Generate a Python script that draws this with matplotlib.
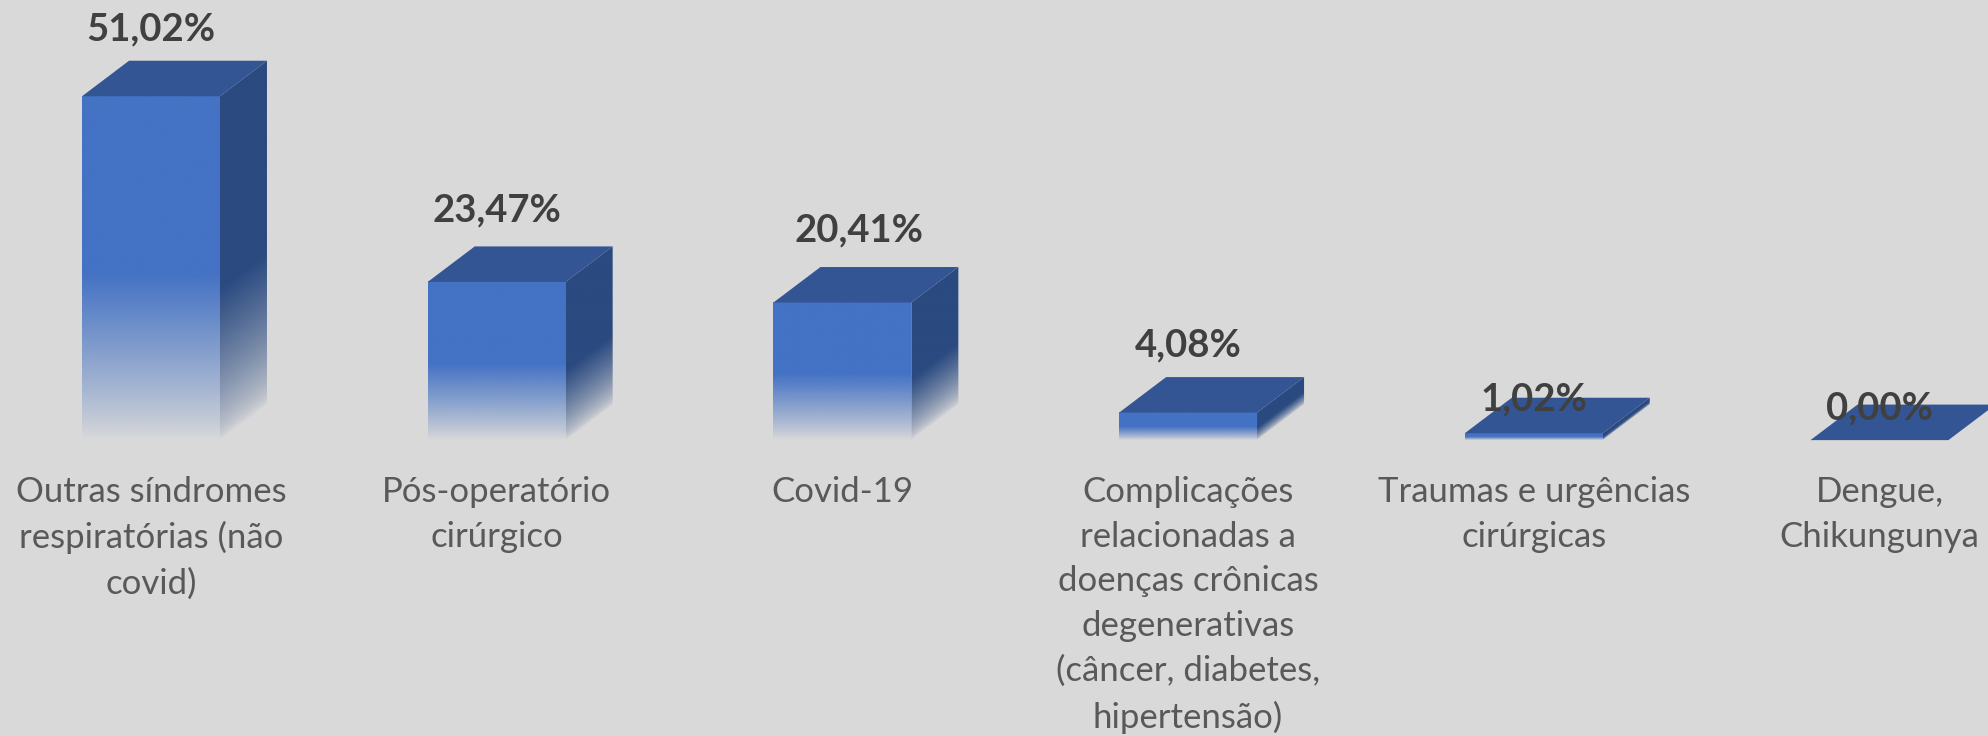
import numpy as np
import matplotlib
matplotlib.use("Agg")
import matplotlib.pyplot as plt
from matplotlib.colors import to_rgb
from matplotlib.patches import Polygon

categories = [
    "Outras síndromes\nrespiratórias (não\ncovid)",
    "Pós-operatório\ncirúrgico",
    "Covid-19",
    "Complicações\nrelacionadas a\ndoenças crônicas\ndegenerativas\n(câncer, diabetes,\nhipertensão)",
    "Traumas e urgências\ncirúrgicas",
    "Dengue,\nChikungunya",
]
values = [51.02, 23.47, 20.41, 4.08, 1.02, 0.00]
value_labels = ["51,02%", "23,47%", "20,41%", "4,08%", "1,02%", "0,00%"]
# label offsets: height above the bar top (percent units), sideways shift (bars)
label_gaps = [4.7, 5.4, 5.4, 4.7, -0.2, -0.6]
label_shift = [0, 0, 0.048, 0, 0, 0]

BG = "#D9D9D9"
FRONT = "#4472C4"
SIDE = "#2A4A80"
TOP = "#335593"
WIDTH = 0.399
DX = 0.136
DY = 5.27


def fade(color, alpha):
    rgba = np.ones(alpha.shape + (4,))
    rgba[..., :3] = to_rgb(color)
    rgba[..., 3] = alpha
    return rgba


def ramp(t, solid, power):
    # t: 0 at the top of the bar, 1 at the bottom
    return np.clip((1 - t) / (1 - solid), 0, 1) ** power


plt.rcParams["font.family"] = ["Lato", "DejaVu Sans"]
fig = plt.figure(figsize=(19.88, 7.36), dpi=100, facecolor=BG)
ax = fig.add_axes([0, 0, 1, 1])
ax.set_facecolor(BG)

for i, (v, cat, lab, gap, shift) in enumerate(zip(values, categories, value_labels, label_gaps, label_shift)):
    x0, x1 = i - WIDTH / 2, i + WIDTH / 2

    if v > 0:
        # front face
        t = np.linspace(0, 1, 300)[:, None]
        ax.imshow(fade(FRONT, ramp(t, 0.52, 0.9)), extent=(x0, x1, 0, v), origin="upper",
                  aspect="auto", interpolation="bilinear", zorder=2)

        # side face, fade follows the shear of the face
        u = np.linspace(0, 1, 80)
        w = np.linspace(0, 1, 400)
        uu, ww = np.meshgrid(u, w)
        yy = (v + DY) * (1 - ww)
        tt = 1 - (yy - DY * uu) / v
        side = ax.imshow(fade(SIDE, ramp(tt, 0.56, 0.7)), extent=(x1, x1 + DX, 0, v + DY), origin="upper",
                         aspect="auto", interpolation="bilinear", zorder=2)
        clip = Polygon([(x1, 0), (x1 + DX, DY), (x1 + DX, v + DY), (x1, v)],
                       closed=True, transform=ax.transData, fill=False, edgecolor="none")
        ax.add_patch(clip)
        side.set_clip_path(clip)

    # top face
    ax.add_patch(Polygon([(x0, v), (x1, v), (x1 + DX, v + DY), (x0 + DX, v + DY)],
                         closed=True, facecolor=TOP, edgecolor="none", zorder=3))

    ax.text(i + shift, v + DY + gap, lab, ha="center", va="center", fontsize=27.5, fontweight="bold",
            color="#404040", zorder=5)
    ax.text(i, -5.3, cat, ha="center", va="top", fontsize=25, color="#595959",
            linespacing=1.49, zorder=5)

ax.set_xlim(-0.4368, 5.314)
ax.set_ylim(-43.9, 65.3)
ax.axis("off")

fig.savefig("out.png", dpi=100, facecolor=BG)
